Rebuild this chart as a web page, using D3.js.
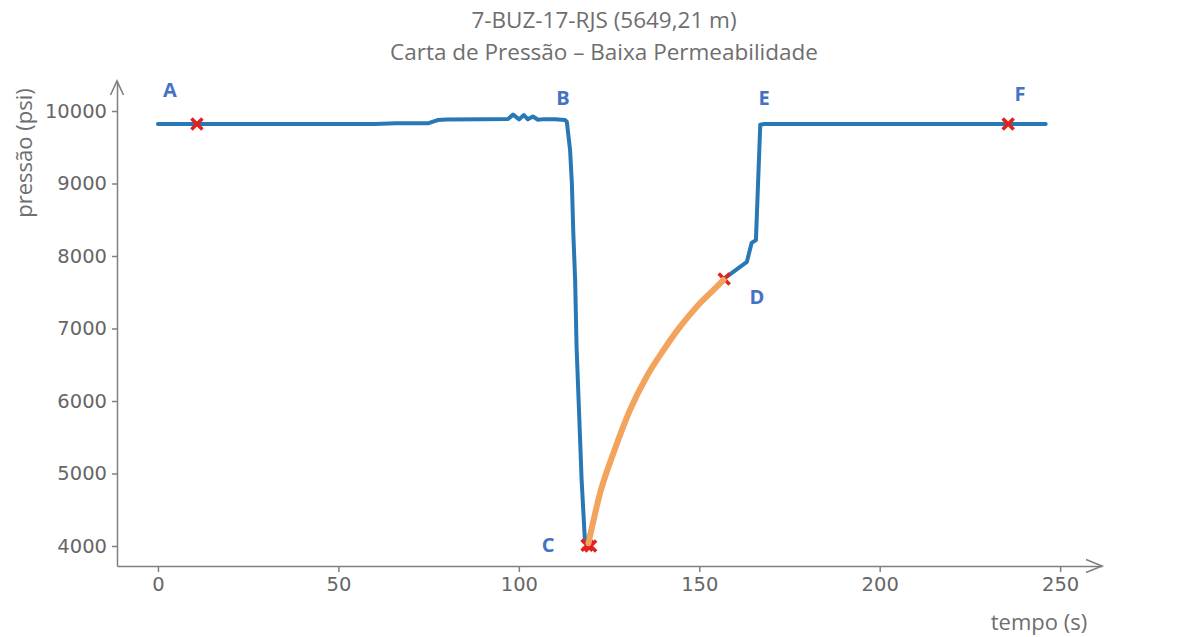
<!DOCTYPE html>
<html>
<head>
<meta charset="utf-8">
<script src="https://cdn.jsdelivr.net/npm/d3@7"></script>
<style>
    body { margin: 0; background: #fff; }
    .title { font-family: "Open Sans", sans-serif; font-size: 22.5px; fill: #6e6e6e; }
    .axis-label { font-family: "Open Sans", sans-serif; font-size: 22px; fill: #6e6e6e; }
    .axis text { font-family: "DejaVu Sans", sans-serif; font-size: 19.5px; fill: #666; }
    .axis line, .axis path { stroke: #808080; stroke-width: 1.5; }
    .pt-lbl { font-family: "Open Sans", sans-serif; font-weight: bold; font-size: 20px; fill: #4472c4; }
</style>
</head>
<body>
<div id="chart"></div>
<script>

// tempo (s) / pressão (psi) - curva medida
const tempo = [0, 30, 60, 66, 70, 75, 77.5, 80, 90, 97, 98.4, 100.1, 101.4, 102.5, 103.9, 105.3, 107, 110, 112.8,
    113.3, 114.2, 114.7, 115.1, 115.6, 116.0, 116.7, 117.4, 118.3, 118.9,
    122.5, 126.2, 130.8, 135.4, 140.1, 144.7, 149.3, 153.9, 156.7,
    163.2, 164.5, 165.7, 166.9, 168, 200, 246];
const pressao = [9820, 9820, 9822, 9830, 9832, 9832, 9875, 9882, 9885, 9890, 9950, 9885, 9945, 9885, 9925, 9880, 9888, 9885, 9875,
    9852, 9462, 9003, 8313, 7669, 6749, 5834, 4910, 4083, 4020,
    4727, 5279, 5876, 6335, 6703, 7025, 7301, 7531, 7680,
    7920, 8180, 8220, 9810, 9820, 9820, 9820];

// ajuste (recuperação C -> D)
const ajusteTempo = [119.3, 122.5, 126.2, 130.8, 135.4, 140.1, 144.7, 149.3, 153.9, 156.7];
const ajustePressao = [4037, 4727, 5279, 5876, 6335, 6703, 7025, 7301, 7531, 7669];

// marcadores
const marcaTempo = [10.8, 118.9, 119.9, 156.9, 235.6];
const marcaPressao = [9820, 4010, 4000, 7683, 9820];

// rótulos dos pontos
const rotulos = ["A", "B", "C", "D", "E", "F"];
const rotuloTempo = [3.3, 112.2, 108.1, 166, 168, 238.9];
const rotuloPressao = [10290, 10193, 4014, 7448, 10193, 10248];

const xTicks = [0, 50, 100, 150, 200, 250];
const yTicks = [4000, 5000, 6000, 7000, 8000, 9000, 10000];

const titulo = ["7-BUZ-17-RJS (5649,21 m)", "Carta de Pressão \u2013 Baixa Permeabilidade"];

const width = 1199, height = 637;
const margin = {top: 81, right: 97, bottom: 71, left: 117};

const svg = d3.select("#chart").append("svg")
    .attr("width", width)
    .attr("height", height);

const xScale = d3.scaleLinear()
    .domain([-11.35, 261.6])
    .range([margin.left, width - margin.right]);

const yScale = d3.scaleLinear()
    .domain([3724, 10414])
    .range([height - margin.bottom, margin.top]);

// titulo
svg.selectAll(".title")
    .data(titulo)
    .enter().append("text")
    .classed("title", true)
    .attr("x", 604)
    .attr("y", (d, i) => 28 + i * 32)
    .attr("text-anchor", "middle")
    .text(d => d);

// eixos
const xAxis = d3.axisBottom(xScale)
    .tickValues(xTicks)
    .tickSize(6)
    .tickPadding(5)
    .tickSizeOuter(0);

const yAxis = d3.axisLeft(yScale)
    .tickValues(yTicks)
    .tickSize(5)
    .tickPadding(5)
    .tickFormat(d3.format("d"))
    .tickSizeOuter(0);

svg.append("g")
    .classed("axis", true)
    .attr("transform", `translate(0,${height - margin.bottom})`)
    .call(xAxis);

svg.append("g")
    .classed("axis", true)
    .attr("transform", `translate(${margin.left},0)`)
    .call(yAxis);

// setas
const x0 = margin.left, y0 = height - margin.bottom;
const xEnd = width - margin.right, yEnd = margin.top;

svg.append("path")
    .attr("d", `M${x0 - 6.5},${yEnd + 14}L${x0},${yEnd}L${x0 + 6.5},${yEnd + 14}`)
    .attr("fill", "none")
    .attr("stroke", "#808080")
    .attr("stroke-width", 1.6);

svg.append("path")
    .attr("d", `M${xEnd - 16},${y0 - 6.5}L${xEnd},${y0}L${xEnd - 16},${y0 + 6.5}`)
    .attr("fill", "none")
    .attr("stroke", "#808080")
    .attr("stroke-width", 1.6);

// rotulos dos eixos
svg.append("text")
    .classed("axis-label", true)
    .attr("transform", `translate(32,153) rotate(-90)`)
    .attr("text-anchor", "middle")
    .text("pressão (psi)");

svg.append("text")
    .classed("axis-label", true)
    .attr("x", 1039)
    .attr("y", 630)
    .attr("text-anchor", "middle")
    .text("tempo (s)");

// curva principal
const line = d3.line()
    .x(d => xScale(d[0]))
    .y(d => yScale(d[1]));

svg.append("path")
    .datum(d3.zip(tempo, pressao))
    .attr("fill", "none")
    .attr("stroke", "#2878b5")
    .attr("stroke-width", 4)
    .attr("stroke-linejoin", "round")
    .attr("stroke-linecap", "round")
    .attr("d", line);

// marcadores X
const mk = 5.5;
svg.selectAll(".mark")
    .data(d3.zip(marcaTempo, marcaPressao))
    .enter().append("path")
    .classed("mark", true)
    .attr("transform", d => `translate(${xScale(d[0])},${yScale(d[1])})`)
    .attr("d", `M${-mk},${-mk}L${mk},${mk}M${-mk},${mk}L${mk},${-mk}`)
    .attr("stroke", "#e3211c")
    .attr("stroke-width", 3.5);

// curva de ajuste
svg.append("path")
    .datum(d3.zip(ajusteTempo, ajustePressao))
    .attr("fill", "none")
    .attr("stroke", "#f2a35c")
    .attr("stroke-width", 6)
    .attr("stroke-linecap", "round")
    .attr("d", line.curve(d3.curveMonotoneX));

// rotulos A-F
svg.selectAll(".pt-lbl")
    .data(rotulos)
    .enter().append("text")
    .classed("pt-lbl", true)
    .attr("x", (d, i) => xScale(rotuloTempo[i]))
    .attr("y", (d, i) => yScale(rotuloPressao[i]))
    .attr("text-anchor", "middle")
    .attr("dominant-baseline", "central")
    .text(d => d);

</script>
</body>
</html>
